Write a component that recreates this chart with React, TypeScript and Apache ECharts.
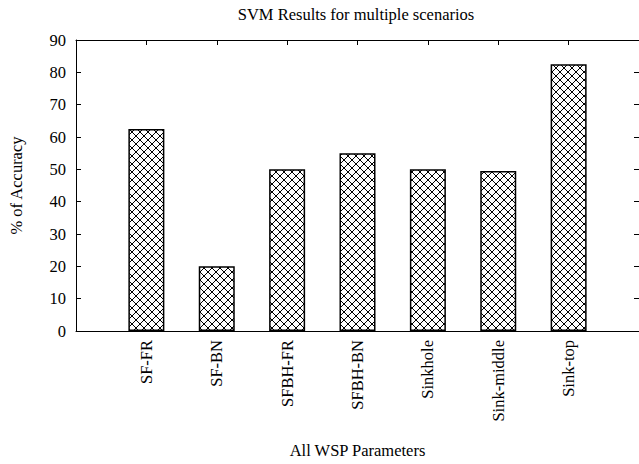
import React, { useEffect, useRef } from "react";
import * as echarts from "echarts";

const titleText = "SVM Results for multiple scenarios";
const yAxisTitle = "% of Accuracy";
const xAxisTitle = "All WSP Parameters";
const categories = ["SF-FR", "SF-BN", "SFBH-FR", "SFBH-BN", "Sinkhole", "Sink-middle", "Sink-top"];
const accuracy = [62.5, 20, 50, 55, 50, 49.5, 82.5];
const yTicks = { min: 0, max: 90, step: 10 };

const FONT = "'Liberation Serif', 'Times New Roman', serif";

const hatchSvg =
  "<svg xmlns='http://www.w3.org/2000/svg' width='8' height='8'>" +
  "<rect width='8' height='8' fill='white'/>" +
  "<path d='M0 0 L8 8 M8 0 L0 8 M-1 7 L1 9 M7 -1 L9 1 M-1 1 L1 -1 M7 9 L9 7' stroke='black' stroke-width='1'/>" +
  "</svg>";
const hatchUrl = "data:image/svg+xml;charset=utf-8," + encodeURIComponent(hatchSvg);

export default function App() {
  const ref = useRef<HTMLDivElement>(null);
  useEffect(() => {
    document.body.style.margin = "0";
    if (!ref.current) return;
    const chart = echarts.init(ref.current, null, { renderer: "svg" });
    const textStyle = { fontFamily: FONT, fontSize: 16.5, color: "#000" };
    const axisLine = { show: true, onZero: false, lineStyle: { color: "#000", width: 1 } };
    const tick = { show: true, inside: true, length: 5, lineStyle: { color: "#000", width: 1 } };
    chart.setOption({
      animation: false,
      backgroundColor: "#fff",
      textStyle,
      title: {
        text: titleText,
        left: 356,
        top: 6,
        padding: 0,
        textAlign: "center",
        textStyle: { ...textStyle, fontWeight: "normal" },
      },
      grid: { left: 73, right: -2, top: 40, bottom: 133 },
      xAxis: [
        {
          type: "value",
          position: "bottom",
          min: -1,
          max: 7,
          interval: 1,
          axisLine,
          axisTick: tick,
          splitLine: { show: false },
          axisLabel: {
            ...textStyle,
            rotate: 90,
            margin: 9,
            showMinLabel: false,
            showMaxLabel: false,
            formatter: (v: number) => categories[v] ?? "",
          },
          name: xAxisTitle,
          nameLocation: "middle",
          nameGap: 111,
          nameTextStyle: textStyle,
        },
        {
          type: "value",
          position: "top",
          min: -1,
          max: 7,
          interval: 1,
          axisLine,
          axisTick: tick,
          splitLine: { show: false },
          axisLabel: { show: false },
        },
      ],
      yAxis: [
        {
          type: "value",
          position: "left",
          min: yTicks.min,
          max: yTicks.max,
          interval: yTicks.step,
          axisLine,
          axisTick: tick,
          splitLine: { show: false },
          axisLabel: { ...textStyle, margin: 10 },
          name: yAxisTitle,
          nameLocation: "middle",
          nameGap: 51,
          nameTextStyle: textStyle,
        },
        {
          type: "value",
          position: "right",
          min: yTicks.min,
          max: yTicks.max,
          interval: yTicks.step,
          axisLine,
          axisTick: tick,
          splitLine: { show: false },
          axisLabel: { show: false },
        },
      ],
      series: [
        {
          type: "bar",
          xAxisIndex: 0,
          yAxisIndex: 0,
          barWidth: 36,
          data: categories.map((c, i) => [i, accuracy[i]]),
          itemStyle: {
            color: { image: hatchUrl, repeat: "repeat" },
            borderColor: "#000",
            borderWidth: 1.5,
          },
        },
      ],
    });
    return () => chart.dispose();
  }, []);
  return <div ref={ref} style={{ width: 639, height: 464 }} />;
}
